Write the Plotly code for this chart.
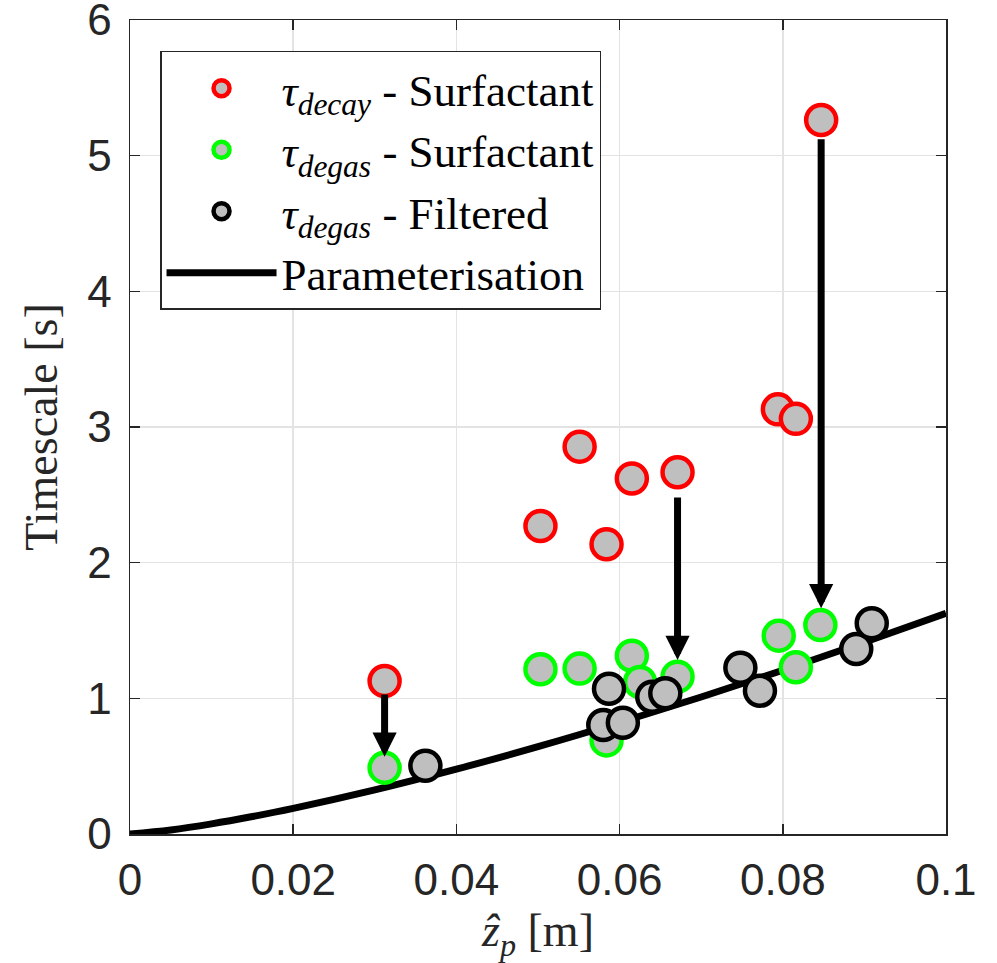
import plotly.graph_objects as go

# ---- data ----
decay_x = [0.0312, 0.0503, 0.0551, 0.0584, 0.0615, 0.0671, 0.0794, 0.0816, 0.0847]
decay_y = [1.128, 2.27, 2.855, 2.135, 2.62, 2.666, 3.13, 3.06, 5.263]

degas_x = [0.0312, 0.0503, 0.0551, 0.0584, 0.0615, 0.0625, 0.0671, 0.0795, 0.0816, 0.0846]
degas_y = [0.489, 1.214, 1.219, 0.69, 1.314, 1.12, 1.16, 1.462, 1.229, 1.540]

filt_x = [0.0362, 0.0587, 0.0580, 0.0604, 0.0640, 0.0656, 0.0748, 0.0772, 0.0890, 0.0909]
filt_y = [0.503, 1.071, 0.803, 0.820, 1.012, 1.037, 1.226, 1.056, 1.364, 1.553]

param_x = [0, 0.005, 0.01, 0.015, 0.02, 0.03, 0.04, 0.05, 0.06, 0.07, 0.08, 0.09, 0.1]
param_y = [0, 0.030, 0.075, 0.129, 0.189, 0.325, 0.478, 0.644, 0.822, 1.010, 1.207, 1.413, 1.627]

arrow_x = [0.0312, 0.0671, 0.0847]
arrow_from = [1.039, 2.491, 5.132]
arrow_to = [0.570, 1.283, 1.664]

x_ticks = [0, 0.02, 0.04, 0.06, 0.08, 0.1]
x_tick_labels = ["0", "0.02", "0.04", "0.06", "0.08", "0.1"]
y_ticks = [0, 1, 2, 3, 4, 5, 6]

# ---- styles ----
FILL = "#bfbfbf"
AX = "#262626"
SERIF = "Liberation Serif"
SANS = "Liberation Sans, Arial, sans-serif"
MSIZE = 30
MLINE = 4.5

fig = go.Figure()

fig.add_trace(go.Scatter(
    x=param_x, y=param_y, mode="lines", line=dict(color="black", width=7, shape="spline"),
    name="Parameterisation", legendrank=4))

fig.add_trace(go.Scatter(
    x=decay_x, y=decay_y, mode="markers",
    marker=dict(size=MSIZE, color=FILL, line=dict(color="#ff0000", width=MLINE)),
    name="<i>τ<sub>decay</sub></i> - Surfactant", legendrank=1))

fig.add_trace(go.Scatter(
    x=degas_x, y=degas_y, mode="markers",
    marker=dict(size=MSIZE, color=FILL, line=dict(color="#00ff00", width=MLINE)),
    name="<i>τ<sub>degas</sub></i> - Surfactant", legendrank=2))

fig.add_trace(go.Scatter(
    x=filt_x, y=filt_y, mode="markers",
    marker=dict(size=MSIZE, color=FILL, line=dict(color="black", width=MLINE)),
    name="<i>τ<sub>degas</sub></i> - Filtered", legendrank=3))

for ax_, y0, y1 in zip(arrow_x, arrow_from, arrow_to):
    fig.add_annotation(
        x=ax_, y=y1, ax=ax_, ay=y0, xref="x", yref="y", axref="x", ayref="y",
        showarrow=True, arrowhead=2, arrowsize=0.69, arrowwidth=7, arrowcolor="black",
        standoff=0, startstandoff=0, text="")

axis_common = dict(
    showline=True, linecolor=AX, linewidth=1.5, mirror="ticks",
    ticks="inside", ticklen=10, tickwidth=1.5, tickcolor=AX,
    showgrid=True, gridcolor="#e3e3e3", gridwidth=1.5, zeroline=False,
    tickfont=dict(family=SANS, size=44, color=AX),
    ticklabeloverflow="allow", automargin=False,
)

fig.update_xaxes(
    range=[0, 0.1], tickvals=x_ticks, ticktext=x_tick_labels,
    title=dict(text="<i>ẑ<sub>p</sub></i> [m]", font=dict(family=SERIF, size=46, color=AX), standoff=17),
    ticklabelstandoff=7,
    **axis_common)
fig.update_yaxes(
    range=[0, 6], tickvals=y_ticks,
    title=dict(text="Timescale [s]", font=dict(family=SERIF, size=46, color=AX), standoff=15),
    ticklabelstandoff=8,
    **axis_common)

fig.update_layout(
    width=997, height=963,
    margin=dict(l=130, r=51, t=20, b=129, autoexpand=False),
    paper_bgcolor="white", plot_bgcolor="white",
    showlegend=True,
    legend=dict(
        x=0.0368, y=0.962, xanchor="left", yanchor="top",
        bgcolor="white", bordercolor=AX, borderwidth=1.5,
        font=dict(family=SERIF, size=45, color="black"),
        itemwidth=110, tracegroupgap=0,
    ),
)

# remove the browser's default 8px body margin so the figure fills the window
fig.write_html(
    "out.html",
    config={"displayModeBar": False, "staticPlot": True},
    post_script="document.body.style.margin='0';document.body.style.overflow='hidden';",
)
